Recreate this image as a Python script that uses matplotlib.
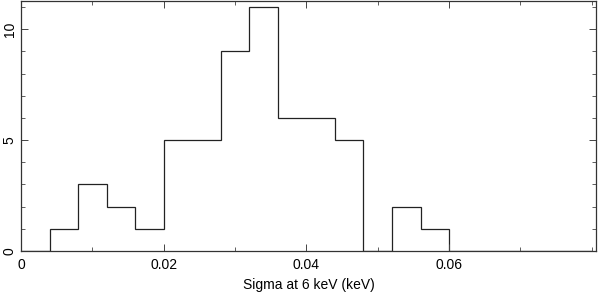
import matplotlib.pyplot as plt
from matplotlib.ticker import MultipleLocator
import numpy as np

bin_edges = np.round(np.arange(0.0, 0.0801, 0.004), 3)
counts = [0, 1, 3, 2, 1, 5, 5, 9, 11, 6, 6, 5, 0, 2, 1, 0, 0, 0, 0, 0]

plt.rcParams["font.family"] = ["Liberation Sans", "DejaVu Sans"]

fig = plt.figure(figsize=(5.98, 2.93), dpi=100)
ax = fig.add_axes([21 / 598, 42 / 293, 575 / 598, 250 / 293])

ax.stairs(counts, bin_edges, color="#222222", linewidth=0.9)

ax.set_xlim(0, 0.0806)
ax.set_ylim(0, 11.27)
ax.xaxis.set_major_locator(MultipleLocator(0.02))
ax.xaxis.set_minor_locator(MultipleLocator(0.01))
ax.yaxis.set_major_locator(MultipleLocator(5))
ax.yaxis.set_minor_locator(MultipleLocator(1))
ax.set_xticks([0, 0.02, 0.04, 0.06])
ax.set_xticklabels(["0", "0.02", "0.04", "0.06"])
ax.tick_params(which="both", direction="in", top=True, right=True,
               labelsize=10, color="#444444")
ax.tick_params(which="major", length=5, width=0.7)
ax.tick_params(which="minor", length=3, width=0.6)
ax.tick_params(axis="x", pad=5)
ax.tick_params(axis="y", pad=3)
for lab in ax.get_yticklabels():
    lab.set_rotation(90)
    lab.set_va("center")
for s in ax.spines.values():
    s.set_linewidth(0.9)
    s.set_color("#333333")

ax.set_xlabel("Sigma at 6 keV (keV)", fontsize=10, labelpad=4)

fig.savefig("out.png", dpi=100)
